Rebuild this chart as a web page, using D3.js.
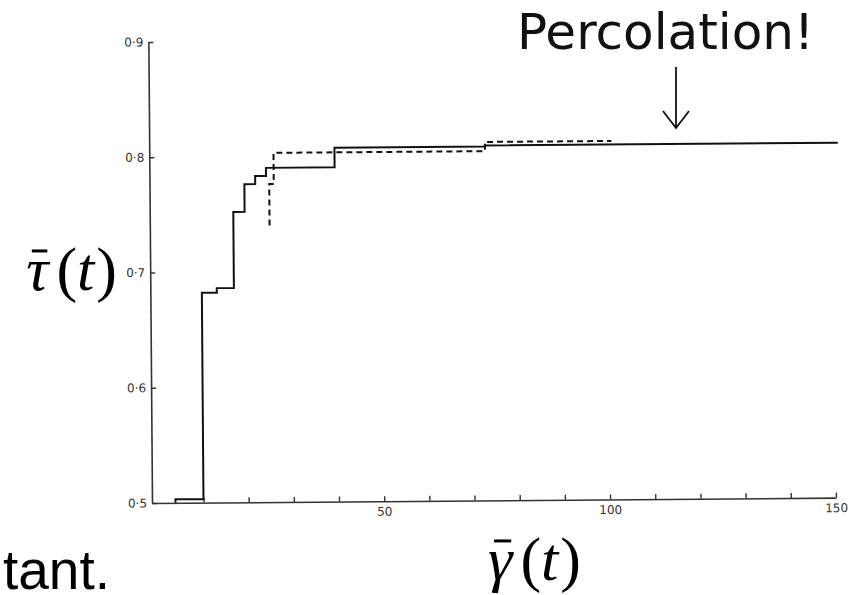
<!DOCTYPE html>
<html>
<head>
<meta charset="utf-8">
<script src="https://cdn.jsdelivr.net/npm/d3@7"></script>
<style>
  html, body { margin: 0; padding: 0; background: #fff; }
  svg { display: block; }
</style>
</head>
<body>
<svg id="chart" width="862" height="595"></svg>
<script>
// Mean cluster measure against time: two step curves (solid and dashed runs)
const solidX = [3.8, 3.8, 10.0, 13.3, 17.1, 19.6, 22.0, 24.4, 39.6, 72.9, 151.0];
const solidY = [0.500, 0.503, 0.682, 0.686, 0.752, 0.776, 0.783, 0.790, 0.807, 0.808, 0.808];

const dashedX = [25.1, 25.1, 26.1, 72.9, 100.9];
const dashedY = [0.740, 0.776, 0.803, 0.811, 0.811];

const xTicks = [10, 20, 30, 40, 50, 60, 70, 80, 90, 100, 110, 120, 130, 140, 150];
const xTickLabels = [50, 100, 150];
const yTicks = [0.5, 0.6, 0.7, 0.8, 0.9];
const yTickLabels = ["0·5", "0·6", "0·7", "0·8", "0·9"];

const svg = d3.select("#chart");

const x = d3.scaleLinear().domain([-1.4, 150]).range([152, 836]);
const y = d3.scaleLinear().domain([0.5, 0.9]).range([503, 42]);

// the printed figure sits very slightly askew
const plot = svg.append("g").attr("transform", "rotate(-0.45, 152, 503)");

const xAxis = d3.axisBottom(x)
  .tickValues(xTicks)
  .tickSizeInner(-5)
  .tickSizeOuter(0)
  .tickPadding(6)
  .tickFormat(d => xTickLabels.includes(d) ? String(d) : "");

const yAxis = d3.axisLeft(y)
  .tickValues(yTicks)
  .tickSizeInner(-5)
  .tickSizeOuter(0)
  .tickPadding(5)
  .tickFormat((d, i) => yTickLabels[i]);

const gx = plot.append("g").attr("transform", `translate(0,${y(0.5)})`).call(xAxis);
const gy = plot.append("g").attr("transform", `translate(${x(-1.4)},0)`).call(yAxis);

[gx, gy].forEach(g => {
  g.select(".domain").attr("stroke", "#333").attr("stroke-width", 1.6);
  g.selectAll(".tick line").attr("stroke", "#333").attr("stroke-width", 1.4);
  g.selectAll(".tick text")
    .attr("fill", "#333")
    .style("font-family", "'DejaVu Sans', sans-serif")
    .style("font-size", "12px");
});

const line = d3.line()
  .x(d => x(d[0]))
  .y(d => y(d[1]))
  .curve(d3.curveStepAfter);

plot.append("path")
  .datum(solidX.map((v, i) => [v, solidY[i]]))
  .attr("fill", "none")
  .attr("stroke", "#111")
  .attr("stroke-width", 2)
  .attr("d", line);

plot.append("path")
  .datum(dashedX.map((v, i) => [v, dashedY[i]]))
  .attr("fill", "none")
  .attr("stroke", "#111")
  .attr("stroke-width", 2)
  .attr("stroke-dasharray", "6,4")
  .attr("d", line);

// annotation
svg.append("text")
  .attr("x", 517).attr("y", 49)
  .style("font-family", "'DejaVu Sans', sans-serif")
  .style("font-size", "50px")
  .attr("fill", "#111")
  .text("Percolation!");

const arrow = svg.append("g").attr("stroke", "#111").attr("stroke-width", 1.8).attr("fill", "none");
arrow.append("line").attr("x1", 676).attr("y1", 67).attr("x2", 676).attr("y2", 127);
arrow.append("polyline").attr("points", "663,111 676,128 689,111");

// axis titles: italic symbol with an overbar, then (t)
function mathLabel(symbol, xPos, yBase, anchor) {
  const size = 62;
  const t = svg.append("text")
    .attr("x", xPos).attr("y", yBase)
    .attr("text-anchor", anchor)
    .style("font-family", "'Liberation Serif', 'Times New Roman', serif")
    .style("font-size", size + "px")
    .attr("fill", "#000");
  t.append("tspan").attr("font-style", "italic").text(symbol);
  t.append("tspan").attr("dx", 8).text("(");
  t.append("tspan").attr("font-style", "italic").text("t");
  t.append("tspan").attr("dx", 2).text(")");
  const ext = t.node().getExtentOfChar(0);
  svg.append("line")
    .attr("x1", ext.x + ext.width * 0.25)
    .attr("x2", ext.x + ext.width * 0.95)
    .attr("y1", yBase - size * 0.63)
    .attr("y2", yBase - size * 0.63)
    .attr("stroke", "#000")
    .attr("stroke-width", 3);
}
mathLabel("τ", 117, 290, "end");
mathLabel("γ", 488, 580, "start");

svg.append("text")
  .attr("x", 110).attr("y", 589)
  .attr("text-anchor", "end")
  .style("font-family", "'Liberation Sans', Arial, sans-serif")
  .style("font-size", "55px")
  .attr("fill", "#000")
  .text("tant.");
</script>
</body>
</html>
